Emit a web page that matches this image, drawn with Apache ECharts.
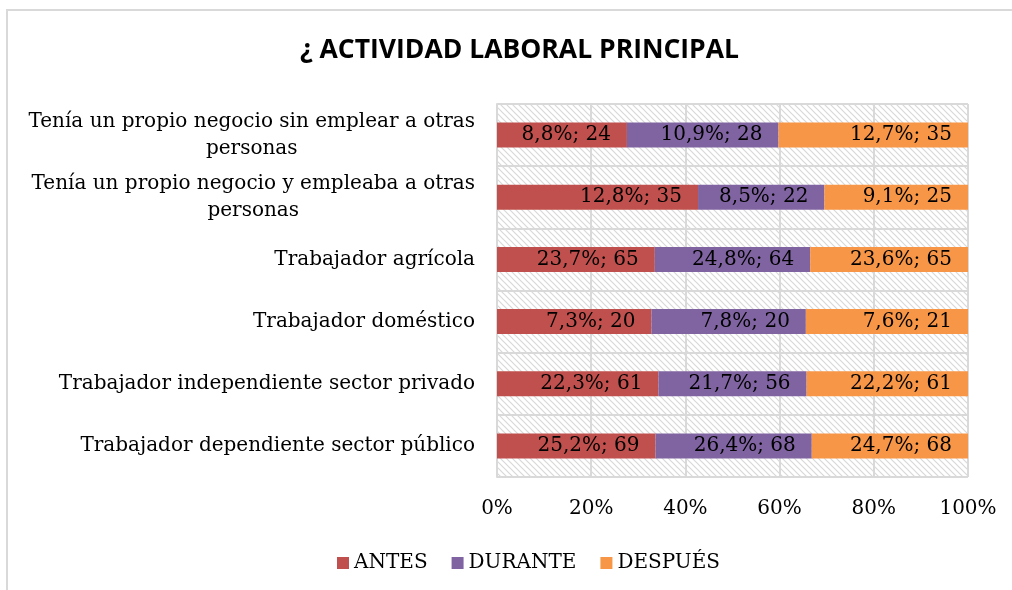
<!DOCTYPE html>
<html>
<head>
<meta charset="utf-8">
<script src="https://cdn.jsdelivr.net/npm/echarts@6/dist/echarts.min.js"></script>
<style>
  html, body { margin: 0; padding: 0; background: #fff; }
  #chart { width: 1012px; height: 590px; }
</style>
</head>
<body>
<div id="chart"></div>
<script>
// categorias de arriba hacia abajo
const categories = [
  'Tenía un propio negocio sin emplear a otras\npersonas',
  'Tenía un propio negocio y empleaba a otras\npersonas',
  'Trabajador agrícola',
  'Trabajador doméstico',
  'Trabajador independiente sector privado',
  'Trabajador dependiente sector público'
]
const seriesNames = ['ANTES', 'DURANTE', 'DESPUÉS']
const antes = [24, 35, 65, 20, 61, 69]
const durante = [28, 22, 64, 20, 56, 68]
const despues = [35, 25, 65, 21, 61, 68]
const xTicks = ['0%', '20%', '40%', '60%', '80%', '100%']
const colors = ['#C0504D', '#8064A2', '#F79646']

const serif = 'DejaVu Serif'
const counts = [antes, durante, despues]
const rowTotals = categories.map((c, i) => antes[i] + durante[i] + despues[i])
const colTotals = counts.map(arr => arr.reduce((a, b) => a + b, 0))

// trama diagonal del fondo
function hatch() {
  const c = document.createElement('canvas')
  c.width = 6
  c.height = 6
  const ctx = c.getContext('2d')
  ctx.fillStyle = '#ffffff'
  ctx.fillRect(0, 0, 6, 6)
  ctx.strokeStyle = '#d8d8d8'
  ctx.lineWidth = 1.2
  ctx.beginPath()
  ctx.moveTo(-1, -1); ctx.lineTo(7, 7)
  ctx.moveTo(-4, 2); ctx.lineTo(4, 10)
  ctx.moveTo(2, -4); ctx.lineTo(10, 4)
  ctx.stroke()
  return c
}

const myChart = echarts.init(document.getElementById('chart'))

const option = {
  backgroundColor: '#fff',
  animation: false,
  title: {
    text: '¿ ACTIVIDAD LABORAL PRINCIPAL',
    left: 295,
    top: 32,
    textStyle: { fontFamily: 'Open Sans', fontWeight: 'bold', fontSize: 26.5, color: '#000' }
  },
  legend: {
    bottom: 12,
    left: 332,
    icon: 'rect',
    itemWidth: 12,
    itemHeight: 12,
    itemGap: 24,
    textStyle: { fontFamily: serif, fontSize: 20, color: '#000' },
    data: seriesNames
  },
  graphic: [{
    type: 'polyline',
    shape: { points: [[7, 600], [7, 10], [1020, 10]] },
    style: { stroke: '#d9d9d9', lineWidth: 2, fill: null },
    silent: true
  }],
  grid: {
    left: 497,
    right: 44,
    top: 104,
    bottom: 113,
    show: true,
    borderWidth: 0,
    backgroundColor: { image: hatch(), repeat: 'repeat' }
  },
  xAxis: {
    type: 'value',
    min: 0,
    max: 100,
    interval: 20,
    axisLine: { show: false },
    axisTick: { show: false },
    splitLine: { show: true, lineStyle: { color: '#d9d9d9', width: 2 } },
    axisLabel: {
      margin: 22,
      fontFamily: serif,
      fontSize: 20,
      color: '#000',
      formatter: (v) => xTicks[Math.round(v / 20)]
    }
  },
  yAxis: {
    type: 'category',
    inverse: true,
    data: categories,
    axisLine: { show: true, lineStyle: { color: '#d9d9d9', width: 2 } },
    axisTick: { show: false },
    splitLine: { show: true, lineStyle: { color: '#d9d9d9', width: 2 } },
    axisLabel: {
      margin: 22,
      fontFamily: serif,
      fontSize: 20,
      color: '#000',
      align: 'right',
      lineHeight: 27,
      formatter: (v) => v.split('\n').map(s => '{c|' + s + '}').join('\n'),
      rich: { c: { fontFamily: serif, fontSize: 20, color: '#000', align: 'center', lineHeight: 27 } }
    }
  },
  series: counts.map((arr, s) => ({
    name: seriesNames[s],
    type: 'bar',
    stack: 'total',
    barWidth: 25,
    itemStyle: { color: colors[s] },
    label: {
      show: true,
      position: 'insideRight',
      distance: 16,
      fontFamily: serif,
      fontSize: 20,
      color: '#000',
      formatter: (p) => {
        const n = arr[p.dataIndex]
        const pct = (n / colTotals[s] * 100).toFixed(1).replace('.', ',')
        return pct + '%; ' + n
      }
    },
    data: arr.map((n, i) => n / rowTotals[i] * 100)
  }))
}

myChart.setOption(option)
</script>
</body>
</html>
